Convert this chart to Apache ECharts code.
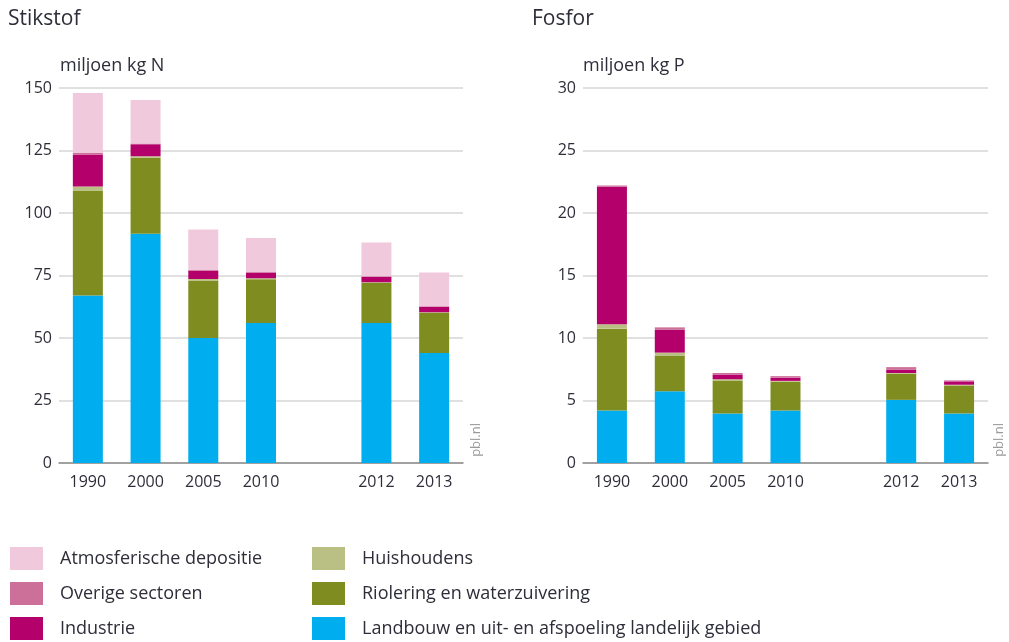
<!DOCTYPE html>
<html>
<head>
<meta charset="utf-8">
<title>Stikstof en fosfor</title>
<script src="https://cdn.jsdelivr.net/npm/echarts@6/dist/echarts.min.js"></script>
<style>
  html, body { margin: 0; padding: 0; background: #fff; }
  #chart { width: 1009px; height: 642px; }
</style>
</head>
<body>
<div id="chart"></div>
<script>
// categorieen (lege plek tussen 2010 en 2012)
const years = ['1990', '2000', '2005', '2010', '', '2012', '2013'];

// Stikstof, miljoen kg N
const nLandbouw   = [67, 91.7, 50, 56, '-', 56, 44];
const nRiolering  = [42, 30.4, 23, 17.5, '-', 16, 16];
const nHuishouden = [1.6, 0.6, 0.6, 0.4, '-', 0.3, 0.3];
const nIndustrie  = [12.8, 4.8, 3.3, 2.2, '-', 2.1, 2.1];
const nOverige    = [0.6, 0.3, 0.3, 0.3, '-', 0.3, 0.3];
const nAtmos      = [24, 17.4, 16.2, 13.6, '-', 13.5, 13.5];

// Fosfor, miljoen kg P
const pLandbouw   = [4.2, 5.75, 3.96, 4.2, '-', 5.05, 3.96];
const pRiolering  = [6.55, 2.85, 2.64, 2.3, '-', 2.1, 2.2];
const pHuishouden = [0.35, 0.23, 0.1, 0.07, '-', 0.05, 0.1];
const pIndustrie  = [11.0, 1.82, 0.38, 0.25, '-', 0.25, 0.27];
const pOverige    = [0.1, 0.2, 0.12, 0.13, '-', 0.22, 0.08];
const pAtmos      = [0, 0, 0, 0, '-', 0, 0];

const nTicks = [0, 150, 25];
const pTicks = [0, 30, 5];

const names = [
  'Landbouw en uit- en afspoeling landelijk gebied',
  'Riolering en waterzuivering',
  'Huishoudens',
  'Industrie',
  'Overige sectoren',
  'Atmosferische depositie'
];
const colors = ['#00aeef', '#7e8c20', '#bac083', '#b4006b', '#cc6f99', '#f0c9dc'];

const font = '"Open Sans", "Noto Sans", sans-serif';
const textColor = '#2e2e3a';

const nData = [nLandbouw, nRiolering, nHuishouden, nIndustrie, nOverige, nAtmos];
const pData = [pLandbouw, pRiolering, pHuishouden, pIndustrie, pOverige, pAtmos];

let series = [];
[nData, pData].forEach((set, gi) => {
  set.forEach((vals, i) => {
    series.push({
      name: names[i],
      type: 'bar',
      stack: gi === 0 ? 'N' : 'P',
      xAxisIndex: gi,
      yAxisIndex: gi,
      barWidth: 30,
      data: vals,
      itemStyle: { color: colors[i] },
      emphasis: { disabled: true }
    });
  });
});

function xAxisFor(idx) {
  return {
    type: 'category',
    gridIndex: idx,
    data: years,
    axisTick: { show: false },
    axisLine: { lineStyle: { color: '#8c8c8c', width: 1.5 } },
    axisLabel: { color: textColor, fontFamily: font, fontSize: 16, margin: 11 }
  };
}
function yAxisFor(idx, ticks) {
  return {
    type: 'value',
    gridIndex: idx,
    min: ticks[0],
    max: ticks[1],
    interval: ticks[2],
    axisLine: { show: false },
    axisTick: { show: false },
    splitLine: { lineStyle: { color: '#d6d6d6', width: 1.5 } },
    axisLabel: { color: textColor, fontFamily: font, fontSize: 16, margin: 7 }
  };
}

const legendText = { color: textColor, fontFamily: font, fontSize: 18, padding: [0, 0, 0, 12] };

const option = {
  animation: false,
  color: colors,
  title: [
    { text: 'Stikstof', left: 3, top: 4, textStyle: { fontFamily: font, fontSize: 21, fontWeight: 'normal', color: textColor } },
    { text: 'Fosfor', left: 527, top: 4, textStyle: { fontFamily: font, fontSize: 21, fontWeight: 'normal', color: textColor } },
    { text: 'miljoen kg N', left: 55, top: 52, textStyle: { fontFamily: font, fontSize: 18, fontWeight: 'normal', color: textColor } },
    { text: 'miljoen kg P', left: 578, top: 52, textStyle: { fontFamily: font, fontSize: 18, fontWeight: 'normal', color: textColor } }
  ],
  grid: [
    { left: 59, right: 546, top: 88, bottom: 179 },
    { left: 583, right: 21, top: 88, bottom: 179 }
  ],
  xAxis: [xAxisFor(0), xAxisFor(1)],
  yAxis: [yAxisFor(0, nTicks), yAxisFor(1, pTicks)],
  legend: [
    {
      orient: 'vertical', left: 10, top: 547, padding: 0,
      itemWidth: 33, itemHeight: 23, itemGap: 12,
      icon: 'rect', selectedMode: false,
      data: [names[5], names[4], names[3]],
      textStyle: legendText
    },
    {
      orient: 'vertical', left: 312, top: 547, padding: 0,
      itemWidth: 33, itemHeight: 23, itemGap: 12,
      icon: 'rect', selectedMode: false,
      data: [names[2], names[1], names[0]],
      textStyle: legendText
    }
  ],
  graphic: [
    { type: 'text', left: 470, top: 423, rotation: Math.PI / 2,
      style: { text: 'pbl.nl', fill: '#9a9a9a', font: '13px ' + font } },
    { type: 'text', left: 993, top: 423, rotation: Math.PI / 2,
      style: { text: 'pbl.nl', fill: '#9a9a9a', font: '13px ' + font } }
  ],
  series
};

let myChart = echarts.init(document.getElementById('chart'));
myChart.setOption(option, true);
window.addEventListener('resize', () => {
  myChart.resize();
});
</script>
</body>
</html>
